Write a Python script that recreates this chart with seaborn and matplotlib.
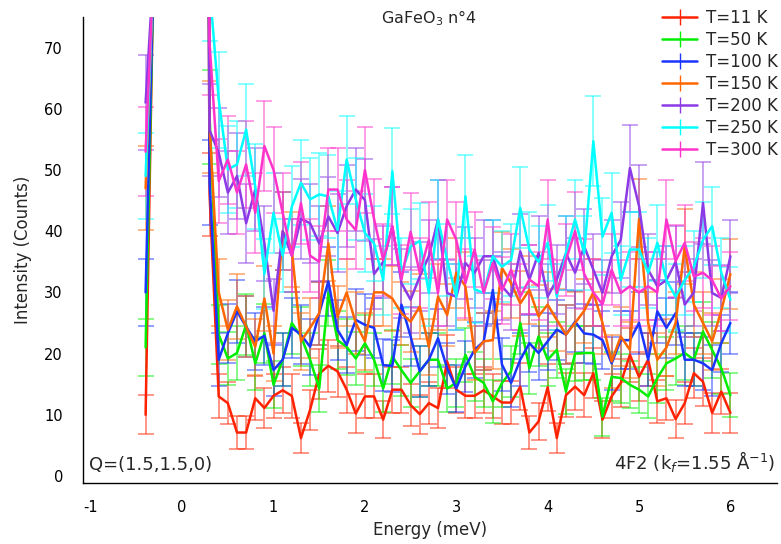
import numpy as np
import pandas as pd
import matplotlib
matplotlib.use("Agg")
import matplotlib.pyplot as plt
from matplotlib.lines import Line2D
import seaborn as sns

# ---------------- data ----------------
temps = ["T=11 K", "T=50 K", "T=100 K", "T=150 K", "T=200 K", "T=250 K", "T=300 K"]
colors = ["#FF2200", "#00EE00", "#1A35FF", "#FF6600", "#8C3AE6", "#00FFFF", "#FF33CC"]

# points just below the elastic line, the elastic peak edge, and the inelastic range
energy_left = [-0.4, -0.3]
energy_right = [0.2, 0.3]
energy_main = [round(0.4 + 0.1 * i, 1) for i in range(57)]  # 0.4 .. 6.0

left_vals = {
    "T=11 K": [10, 95], "T=50 K": [21, 92], "T=100 K": [30, 90], "T=150 K": [47, 88],
    "T=200 K": [61, 86], "T=250 K": [49, 88], "T=300 K": [53, 87],
}
right_vals = {
    "T=11 K": [400, 46], "T=50 K": [400, 58.7], "T=100 K": [400, 48], "T=150 K": [400, 57],
    "T=200 K": [400, 56.5], "T=250 K": [400, 80], "T=300 K": [400, 70.7],
}

t11 = [13.0, 11.9, 7.1, 7.1, 12.7, 11.1, 13.1, 14.0, 13.1, 6.2,
       10.8, 16.7, 18.0, 17.1, 14.1, 10.2, 13.0, 13.0, 9.2, 14.1,
       14.1, 11.6, 10.1, 11.9, 11.1, 18.7, 14.1, 13.1, 13.1, 14.0,
       13.0, 12.0, 12.0, 14.6, 7.1, 8.9, 14.5, 6.2, 13.2, 14.6,
       13.2, 16.8, 9.2, 13.0, 15.2, 19.8, 16.2, 19.0, 12.2, 12.7,
       9.3, 11.9, 16.8, 15.4, 10.3, 13.8, 10.3]
t50 = [23.1, 19.2, 20.1, 24.7, 18.4, 23.3, 14.9, 19.0, 25.0, 22.8,
       19.0, 14.3, 29.9, 22.2, 21.1, 19.2, 21.7, 19.0, 14.3, 19.5,
       17.3, 15.2, 17.1, 19.0, 19.0, 14.3, 15.2, 19.8, 16.2, 15.2,
       12.2, 15.2, 17.1, 25.0, 17.6, 22.8, 19.0, 20.6, 13.8, 20.0,
       20.1, 20.1, 9.7, 16.2, 16.0, 14.9, 14.1, 13.0, 16.0, 18.4,
       19.2, 20.1, 19.0, 23.6, 20.6, 17.6, 13.2]
t100 = [19.0, 23.3, 26.9, 24.4, 22.0, 22.9, 17.3, 19.0, 24.2, 23.1,
        21.1, 26.6, 31.8, 23.9, 21.4, 25.5, 24.7, 24.2, 18.1, 18.0,
        28.0, 22.8, 17.1, 19.0, 22.5, 17.6, 14.3, 17.9, 20.6, 22.0,
        30.4, 18.2, 15.2, 19.0, 21.7, 20.1, 22.0, 23.9, 23.1, 25.2,
        23.3, 23.1, 22.2, 18.4, 22.2, 22.2, 25.0, 19.0, 26.9, 24.2,
        26.6, 19.0, 19.0, 18.4, 17.3, 21.7, 25.0]
t150 = [30.0, 23.9, 27.7, 24.4, 21.1, 29.0, 20.0, 40.0, 37.0, 22.0,
        24.2, 26.6, 38.0, 26.0, 30.0, 25.0, 22.0, 30.0, 30.0, 29.0,
        26.6, 25.2, 27.7, 21.1, 29.3, 26.3, 33.2, 31.0, 20.1, 22.0,
        22.2, 34.0, 31.5, 28.2, 30.4, 26.1, 28.0, 25.5, 23.1, 25.0,
        27.0, 30.0, 25.0, 18.7, 22.8, 20.6, 42.0, 25.0, 19.0, 21.0,
        25.0, 37.5, 28.0, 25.0, 22.0, 27.0, 33.0]
t200 = [52.8, 46.3, 49.0, 41.3, 46.8, 38.0, 27.0, 40.0, 36.0, 42.0,
        41.3, 38.0, 42.4, 39.7, 44.1, 46.8, 45.1, 33.0, 35.0, 40.8,
        31.5, 28.8, 32.6, 35.9, 41.9, 29.9, 29.3, 34.8, 33.2, 35.9,
        35.9, 31.0, 29.3, 36.7, 32.1, 36.4, 29.3, 32.1, 36.4, 33.2,
        37.5, 33.7, 29.9, 35.9, 38.6, 50.3, 44.1, 33.7, 31.0, 32.0,
        35.0, 28.0, 30.0, 44.6, 29.9, 29.1, 35.9]
t250 = [61.5, 50.1, 50.9, 56.6, 47.3, 33.0, 43.0, 36.0, 44.0, 47.9,
        45.2, 46.0, 45.7, 40.2, 51.7, 45.2, 39.7, 38.0, 32.0, 49.8,
        33.2, 37.5, 38.4, 29.9, 41.9, 35.3, 29.3, 45.7, 30.5, 29.9,
        35.9, 34.2, 35.3, 43.8, 37.0, 35.0, 38.1, 29.3, 36.4, 41.9,
        36.4, 54.7, 39.1, 43.0, 32.0, 37.0, 37.0, 33.2, 38.1, 32.0,
        29.3, 32.0, 34.2, 38.6, 40.8, 33.2, 28.8]
t300 = [48.2, 51.7, 46.3, 50.9, 43.0, 53.9, 50.0, 43.0, 36.0, 44.6,
        36.0, 35.0, 46.8, 46.8, 41.9, 40.2, 50.0, 42.0, 35.3, 40.8,
        32.1, 39.9, 33.2, 38.6, 29.9, 41.9, 38.6, 31.5, 37.0, 29.9,
        34.8, 30.3, 33.7, 29.3, 32.1, 31.0, 41.9, 29.9, 35.3, 40.0,
        33.0, 30.0, 28.0, 33.7, 29.9, 31.0, 30.0, 31.0, 30.0, 41.9,
        35.1, 38.1, 32.6, 33.2, 32.0, 29.0, 31.0]

main_vals = {"T=11 K": t11, "T=50 K": t50, "T=100 K": t100, "T=150 K": t150,
             "T=200 K": t200, "T=250 K": t250, "T=300 K": t300}

rows = []
for t in temps:
    energies = energy_left + energy_right + energy_main
    values = left_vals[t] + right_vals[t] + main_vals[t]
    for e, v in zip(energies, values):
        rows.append((t, e, v))
df = pd.DataFrame(rows, columns=["T", "Energy", "Counts"])
df["err"] = np.sqrt(df["Counts"])  # counting statistics

# ---------------- plot ----------------
sns.set_style("white")
plt.rcParams["font.family"] = ["DejaVu Sans"]
plt.rcParams["axes.unicode_minus"] = False

fig = plt.figure(figsize=(7.81, 5.44), dpi=100)
ax = fig.add_axes([0.1063, 0.1121, 0.8886, 0.8567])

pal = dict(zip(temps, colors))

for t in temps:
    sub = df[df["T"] == t]
    ax.errorbar(sub["Energy"], sub["Counts"], yerr=sub["err"], fmt="none",
                ecolor=pal[t], elinewidth=1.1, capsize=5.5, capthick=1.1, alpha=0.6, zorder=2)

sns.lineplot(data=df, x="Energy", y="Counts", hue="T", palette=pal, hue_order=temps,
             units="T", estimator=None, sort=True, linewidth=1.8, ax=ax, legend=False, zorder=3)

ax.set_xlim(-1.085, 6.51)
ax.set_ylim(-1.15, 75)
ax.set_xticks(range(-1, 7))
ax.set_yticks(range(0, 71, 10))
ax.tick_params(axis="both", direction="out", length=6.5, width=1, labelsize=10.5, colors="black")
ax.tick_params(axis="x", pad=6)
ax.tick_params(axis="y", pad=8)
for s in ["top", "right"]:
    ax.spines[s].set_visible(False)
for s in ["left", "bottom"]:
    ax.spines[s].set_color("black")
    ax.spines[s].set_linewidth(1)
ax.set_xlabel("Energy (meV)", fontsize=12, labelpad=4)
ax.set_ylabel("Intensity (Counts)", fontsize=12, labelpad=9)

ax.text(0.429, 0.998, "GaFeO$_3$ n°4", transform=ax.transAxes, fontsize=11.5, ha="left", va="center")
ax.text(0.008, 0.02, "Q=(1.5,1.5,0)", transform=ax.transAxes, fontsize=13, ha="left", va="bottom")
ax.text(0.998, 0.02, "4F2 (k$_f$=1.55 Å$^{-1}$)", transform=ax.transAxes, fontsize=13,
        ha="right", va="bottom")

handles = [Line2D([0], [0], color=pal[t], lw=1.8, marker="|", markersize=11,
                  markeredgewidth=1, markeredgecolor=pal[t]) for t in temps]
leg = ax.legend(handles, temps, loc="upper right", bbox_to_anchor=(1.016, 1.039), frameon=False,
                fontsize=12, handlelength=2.1, handletextpad=0.55, labelspacing=0.24,
                borderaxespad=0.2)

fig.savefig("out.png", dpi=100, facecolor="white")
